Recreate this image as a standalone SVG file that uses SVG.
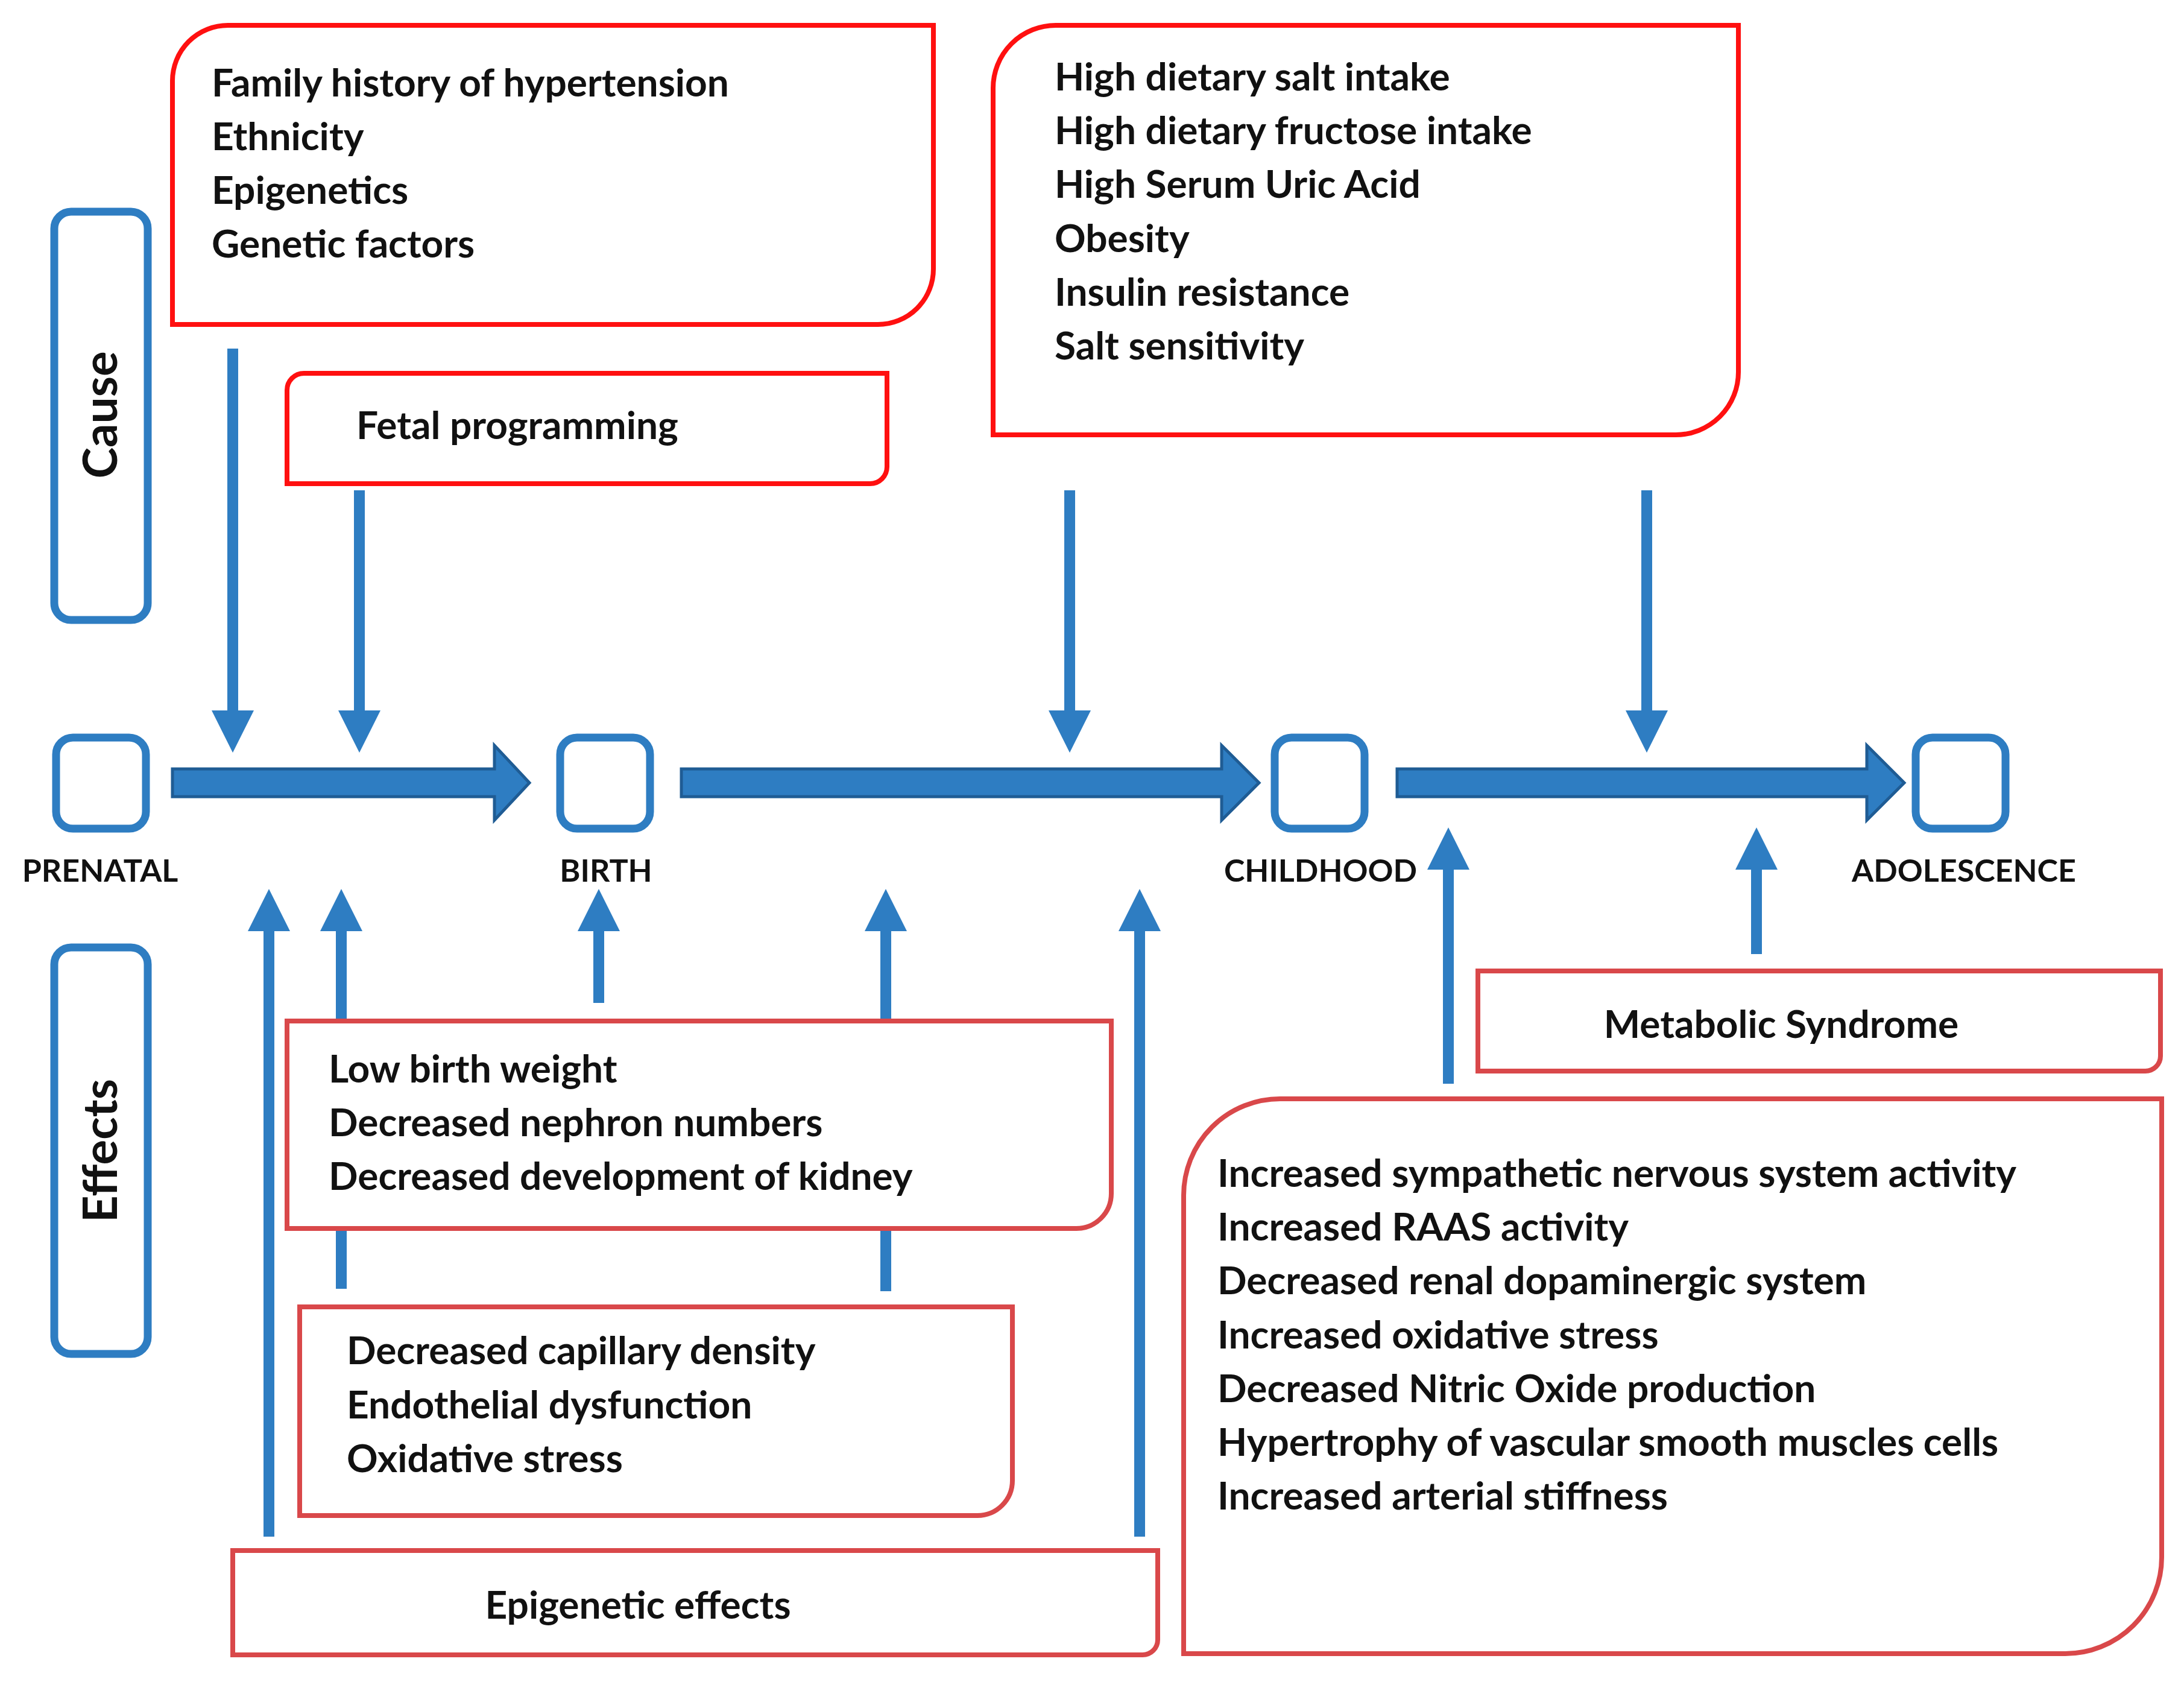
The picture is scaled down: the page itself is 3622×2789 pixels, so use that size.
<svg xmlns="http://www.w3.org/2000/svg" width="3622" height="2789" viewBox="0 0 3622 2789">
<style>
.t{font-family:"Lato","Open Sans","Liberation Sans",sans-serif;font-weight:bold;fill:#111;font-size:64px}
.lb{font-family:"Lato","Open Sans","Liberation Sans",sans-serif;font-weight:bold;fill:#111;font-size:52px;text-anchor:middle}
.c{fill:#fff;stroke:#FF1010;stroke-width:8}
.e{fill:#fff;stroke:#D9484A;stroke-width:8}
.b{fill:#fff;stroke:#2E7DC2;stroke-width:13}
.a{fill:#2E7DC2}
.h{fill:#2E7DC2;stroke:#1F5C94;stroke-width:5}
</style>
<rect width="3622" height="2789" fill="#fff"/>
<g id="connectors">
<path class="h" d="M286,1275 H820 V1236 L878,1298 L820,1360 V1321 H286 Z"/>
<path class="h" d="M1130,1275 H2026 V1236 L2088,1298 L2026,1360 V1321 H1130 Z"/>
<path class="h" d="M2317,1275 H3096 V1236 L3158,1298 L3096,1360 V1321 H2317 Z"/>
<path class="a" d="M377,578 H395 V1178 H421 L386,1248 L351,1178 H377 Z"/>
<path class="a" d="M587,813 H605 V1178 H631 L596,1248 L561,1178 H587 Z"/>
<path class="a" d="M1765,813 H1783 V1178 H1809 L1774,1248 L1739,1178 H1765 Z"/>
<path class="a" d="M2722,813 H2740 V1178 H2766 L2731,1248 L2696,1178 H2722 Z"/>
<path class="a" d="M437,2548 H455 V1544 H481 L446,1474 L411,1544 H437 Z"/>
<path class="a" d="M557,2137 H575 V1544 H601 L566,1474 L531,1544 H557 Z"/>
<path class="a" d="M984,1663 H1002 V1544 H1028 L993,1474 L958,1544 H984 Z"/>
<path class="a" d="M1460,2141 H1478 V1544 H1504 L1469,1474 L1434,1544 H1460 Z"/>
<path class="a" d="M1881,2548 H1899 V1544 H1925 L1890,1474 L1855,1544 H1881 Z"/>
<path class="a" d="M2393,1797 H2411 V1442 H2437 L2402,1372 L2367,1442 H2393 Z"/>
<path class="a" d="M2904,1582 H2922 V1442 H2948 L2913,1372 L2878,1442 H2904 Z"/>
</g>
<g id="cause"><rect class="b" x="90" y="351" width="155" height="677" rx="28"/>
<text class="t" style="font-size:78px" text-anchor="middle" transform="translate(194,688) rotate(-90)">Cause</text></g>
<g id="effects"><rect class="b" x="90" y="1571" width="155" height="674" rx="28"/>
<text class="t" style="font-size:78px" text-anchor="middle" transform="translate(194,1908) rotate(-90)">Effects</text></g>
<g id="prenatal"><rect class="b" x="93" y="1223" width="149" height="151" rx="28"/><text class="lb" x="166" y="1462">PRENATAL</text></g>
<g id="birth"><rect class="b" x="929" y="1223" width="149" height="151" rx="28"/><text class="lb" x="1005" y="1462">BIRTH</text></g>
<g id="childhood"><rect class="b" x="2114" y="1223" width="149" height="151" rx="28"/><text class="lb" x="2190" y="1462">CHILDHOOD</text></g>
<g id="adolescence"><rect class="b" x="3177" y="1223" width="149" height="151" rx="28"/><text class="lb" x="3257" y="1462">ADOLESCENCE</text></g>
<g id="genetic"><path class="c" d="M286,134 A92,92 0 0 1 378,42 H1548 V446 A92,92 0 0 1 1456,538 H286 Z"/>
<text class="t" x="351" y="160">Family history of hypertension</text>
<text class="t" x="351" y="249">Ethnicity</text>
<text class="t" x="351" y="338">Epigenetics</text>
<text class="t" x="351" y="427">Genetic factors</text></g>
<g id="fetal"><path class="c" d="M476,647 A28,28 0 0 1 504,619 H1471 V774 A28,28 0 0 1 1443,802 H476 Z"/>
<text class="t" x="591" y="728">Fetal programming</text></g>
<g id="diet"><path class="c" d="M1647,146 A104,104 0 0 1 1751,42 H2883 V617 A104,104 0 0 1 2779,721 H1647 Z"/>
<text class="t" x="1749" y="150">High dietary salt intake</text>
<text class="t" x="1749" y="239">High dietary fructose intake</text>
<text class="t" x="1749" y="328">High Serum Uric Acid</text>
<text class="t" x="1749" y="418">Obesity</text>
<text class="t" x="1749" y="507">Insulin resistance</text>
<text class="t" x="1749" y="596">Salt sensitivity</text></g>
<g id="lbw"><path class="e" d="M476,1693 H1843 V1979 A58,58 0 0 1 1785,2037 H476 Z"/>
<text class="t" x="545" y="1795">Low birth weight</text>
<text class="t" x="545" y="1884">Decreased nephron numbers</text>
<text class="t" x="545" y="1973">Decreased development of kidney</text></g>
<g id="capillary"><path class="e" d="M497,2167 H1679 V2455 A58,58 0 0 1 1621,2513 H497 Z"/>
<text class="t" x="575" y="2262">Decreased capillary density</text>
<text class="t" x="575" y="2352">Endothelial dysfunction</text>
<text class="t" x="575" y="2441">Oxidative stress</text></g>
<g id="epigenetic"><path class="e" d="M386,2571 H1920 V2719 A25,25 0 0 1 1895,2744 H386 Z"/>
<text class="t" x="1058" y="2684" text-anchor="middle">Epigenetic effects</text></g>
<g id="metabolic"><path class="e" d="M2451,1610 H3583 V1751 A25,25 0 0 1 3558,1776 H2451 Z"/>
<text class="t" x="2954" y="1721" text-anchor="middle">Metabolic Syndrome</text></g>
<g id="mechanisms"><path class="e" d="M1963,1982 A160,160 0 0 1 2123,1822 H3585 V2582 A160,160 0 0 1 3425,2742 H1963 Z"/>
<text class="t" x="2019" y="1968">Increased sympathetic nervous system activity</text>
<text class="t" x="2019" y="2057">Increased RAAS  activity</text>
<text class="t" x="2019" y="2146">Decreased renal dopaminergic system</text>
<text class="t" x="2019" y="2236">Increased oxidative stress</text>
<text class="t" x="2019" y="2325">Decreased Nitric Oxide production</text>
<text class="t" x="2019" y="2414">Hypertrophy of vascular smooth muscles cells</text>
<text class="t" x="2019" y="2503">Increased arterial stiffness</text></g>
</svg>
